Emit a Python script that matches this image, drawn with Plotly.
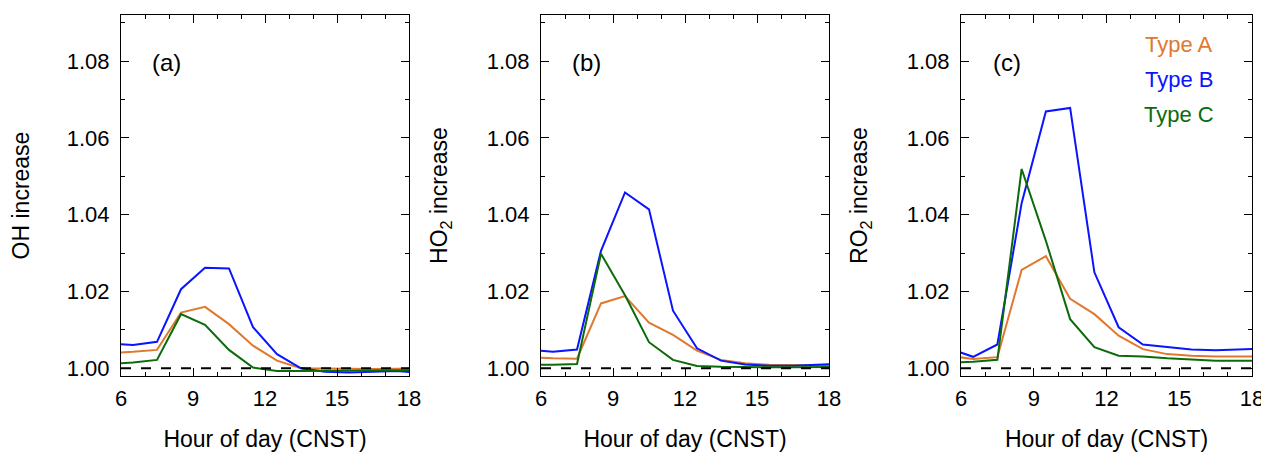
import plotly.graph_objects as go
from plotly.subplots import make_subplots

# hourly means at half hours (clipped to 6-18 by axis range)
hours = [5.5, 6.5, 7.5, 8.5, 9.5, 10.5, 11.5, 12.5, 13.5, 14.5, 15.5, 16.5, 17.5, 18.5]

oh_a = [1.0040, 1.0043, 1.0048, 1.0145, 1.0160, 1.0115, 1.0059, 1.0020, 1.0000, 0.9999, 0.9998, 0.9998, 0.9999, 1.0000]
oh_b = [1.0064, 1.0061, 1.0069, 1.0206, 1.0262, 1.0260, 1.0107, 1.0037, 1.0000, 0.9991, 0.9989, 0.9991, 0.9993, 0.9988]
oh_c = [1.0012, 1.0015, 1.0022, 1.0141, 1.0113, 1.0048, 1.0002, 0.9993, 0.9993, 0.9993, 0.9993, 0.9994, 0.9995, 0.9995]

ho2_a = [1.0029, 1.0026, 1.0025, 1.0169, 1.0188, 1.0119, 1.0087, 1.0046, 1.0022, 1.0013, 1.0009, 1.0008, 1.0008, 1.0007]
ho2_b = [1.0048, 1.0043, 1.0049, 1.0306, 1.0458, 1.0414, 1.0150, 1.0052, 1.0020, 1.0010, 1.0007, 1.0007, 1.0009, 1.0012]
ho2_c = [1.0009, 1.0009, 1.0011, 1.0298, 1.0190, 1.0068, 1.0022, 1.0006, 1.0004, 1.0003, 1.0003, 1.0003, 1.0003, 1.0004]

ro2_a = [1.0033, 1.0024, 1.0029, 1.0256, 1.0292, 1.0181, 1.0141, 1.0085, 1.0050, 1.0037, 1.0033, 1.0031, 1.0031, 1.0031]
ro2_b = [1.0052, 1.0030, 1.0062, 1.0430, 1.0669, 1.0678, 1.0250, 1.0107, 1.0062, 1.0055, 1.0049, 1.0047, 1.0049, 1.0051]
ro2_c = [1.0015, 1.0017, 1.0022, 1.0519, 1.0332, 1.0128, 1.0055, 1.0033, 1.0031, 1.0026, 1.0023, 1.0020, 1.0020, 1.0020]

panels = [("(a)", "OH increase", [oh_a, oh_b, oh_c]),
          ("(b)", "HO<sub>2</sub> increase", [ho2_a, ho2_b, ho2_c]),
          ("(c)", "RO<sub>2</sub> increase", [ro2_a, ro2_b, ro2_c])]
types = ["Type A", "Type B", "Type C"]
colors = ["#E0782E", "#0A14FF", "#0B6B0B"]

FONT = "Liberation Sans, Arial, Helvetica, sans-serif"

fig = make_subplots(rows=1, cols=3)

W, H = 1269, 454
# page body adds ~8px offset, so margins are shifted to compensate
ml, mr, mt, mb = 113, 25, 7, 86
pw = W - ml - mr
domains = [[0, 288 / pw], [420 / pw, 708 / pw], [840 / pw, 1]]

for i, (lab, ytitle, series) in enumerate(panels):
    col = i + 1
    for name, ys, c in zip(types, series, colors):
        fig.add_trace(go.Scatter(x=hours, y=ys, mode="lines", name=name,
                                 line=dict(color=c, width=2), showlegend=False),
                      row=1, col=col)
    # reference line at 1
    fig.add_trace(go.Scatter(x=[6, 18], y=[1, 1], mode="lines", showlegend=False,
                             line=dict(color="black", width=2, dash="10px,10px")),
                  row=1, col=col)
    axn = "" if col == 1 else str(col)
    fig.update_xaxes(domain=domains[i], range=[6, 18], tickvals=[6, 9, 12, 15, 18],
                     ticks="inside", ticklen=8, tickcolor="black", mirror="ticks",
                     showline=True, linecolor="black", linewidth=1, showgrid=False,
                     zeroline=False, automargin=False, ticklabelstandoff=3,
                     minor=dict(dtick=1, ticks="inside", ticklen=4, tickcolor="black"),
                     title=dict(text="Hour of day (CNST)", font=dict(size=23), standoff=20),
                     tickfont=dict(size=22), row=1, col=col)
    fig.update_yaxes(range=[0.998, 1.092], tickvals=[1.00, 1.02, 1.04, 1.06, 1.08],
                     tickformat=".2f",
                     ticks="inside", ticklen=8, tickcolor="black", mirror="ticks",
                     showline=True, linecolor="black", linewidth=1, showgrid=False,
                     zeroline=False, automargin=False, ticklabelstandoff=6,
                     minor=dict(dtick=0.01, ticks="inside", ticklen=4, tickcolor="black"),
                     title=dict(text=ytitle, font=dict(size=23), standoff=32),
                     tickfont=dict(size=22), row=1, col=col)
    fig.add_annotation(text=lab, xref="x" + axn, yref="y" + axn, x=7.9, y=1.0797,
                       showarrow=False, font=dict(size=24, color="black"))

for k, (name, c) in enumerate(zip(types, colors)):
    fig.add_annotation(text=name, xref="x3", yref="y3", x=15.0, y=1.0842 - k * 0.0091,
                       showarrow=False, font=dict(size=22, color=c))

fig.update_layout(width=W, height=H, margin=dict(l=ml, r=mr, t=mt, b=mb),
                  plot_bgcolor="white", paper_bgcolor="white",
                  font=dict(family=FONT, color="black"))

fig.write_html("out.html")
